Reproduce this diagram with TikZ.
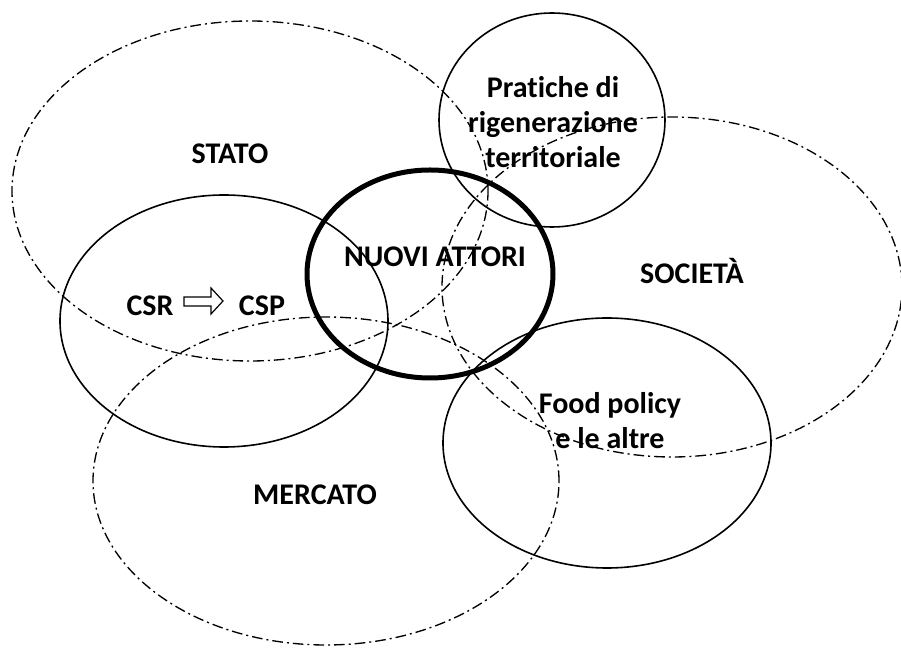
\documentclass[tikz,border=0pt]{standalone}
\usepackage{fontspec}
\setmainfont[Ligatures=NoCommon]{Carlito}
\usetikzlibrary{shapes.geometric}
\begin{document}
\begin{tikzpicture}[x=0.75pt,y=-0.75pt,
  zone/.style={draw, ellipse, inner sep=0pt, outer sep=0pt, line width=1pt,
               dash pattern=on 8pt off 3pt on 1.5pt off 3pt},
  area/.style={draw, ellipse, inner sep=0pt, outer sep=0pt, line width=1.2pt},
  core/.style={draw, ellipse, inner sep=0pt, outer sep=0pt, line width=3.75pt},
  lbl/.style={font=\fontsize{22.5pt}{26.25pt}\selectfont\bfseries, inner sep=0pt, align=center}]
\useasboundingbox (0,0) rectangle (901,655);
% dash-dot zones
\node[zone, minimum width=357pt, minimum height=255pt] (stato) at (250,191) {};
\node[zone, minimum width=345pt, minimum height=255pt] (societa) at (672,287) {};
\node[zone, minimum width=349.5pt, minimum height=246pt] (mercato) at (326,481) {};
% solid areas
\node[area, minimum width=246pt, minimum height=189pt] (csr) at (224,321) {};
\node[area, minimum width=169.5pt, minimum height=160.5pt] (pratiche) at (552,120) {};
\node[area, minimum width=246pt, minimum height=187.5pt] (food) at (607,443) {};
% thick core
\node[core, minimum width=184.5pt, minimum height=156pt] (nuovi) at (430,274) {};
% labels
\node[lbl, anchor=base] (tstato) at (230,164) {STATO};
\node[lbl, anchor=base] (tsocieta) at (692,284) {SOCIETÀ};
\node[lbl, anchor=base] (tmercato) at (315,505) {MERCATO};
\node[lbl, anchor=base] (tnuovi) at (435,267) {NUOVI ATTORI};
\node[lbl, anchor=base] (tcsr) at (150,316) {CSR};
\node[lbl, anchor=base] (tcsp) at (262,316) {CSP};
\node[lbl] (tpratiche) at (553,122) {Pratiche di\\rigenerazione\\territoriale};
\node[lbl] (tfood) at (610,420.5) {Food policy\\e le altre};
% hollow block arrow
\draw[line width=0.9pt, line join=miter]
  (184,297) -- (211,297) -- (211,288) -- (223,301) -- (211,314) -- (211,306) -- (184,306) -- cycle;
\end{tikzpicture}
\end{document}
